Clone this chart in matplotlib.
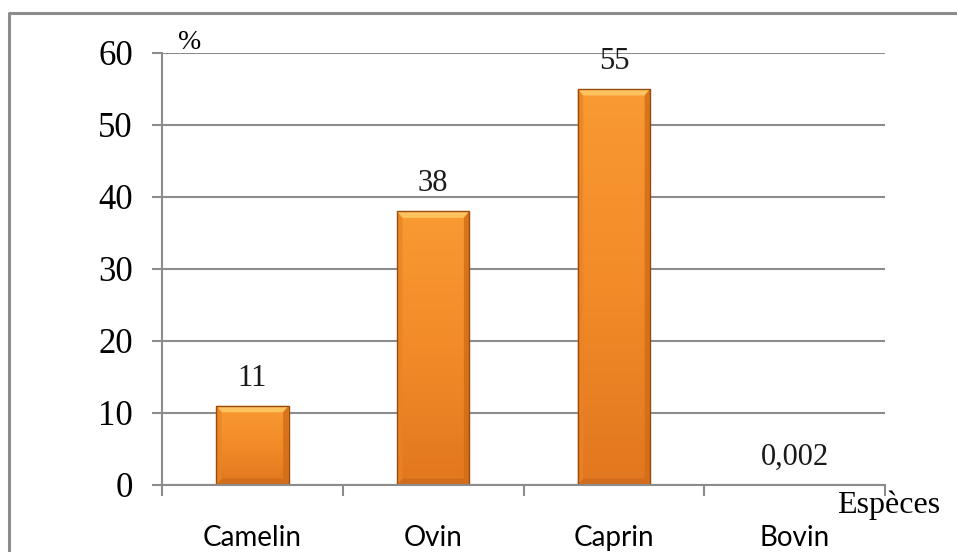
import numpy as np
import matplotlib.pyplot as plt
from matplotlib.patches import Polygon, Rectangle
from matplotlib.colors import LinearSegmentedColormap
from matplotlib.lines import Line2D

# Species share (%)
especes = ['Camelin', 'Ovin', 'Caprin', 'Bovin']
valeurs = [11, 38, 55, 0.002]
etiquettes = ['11', '38', '55', '0,002']
yticks = [0, 10, 20, 30, 40, 50, 60]

serif = ['Liberation Serif', 'DejaVu Serif']
sans = ['Lato', 'DejaVu Sans']

fig = plt.figure(figsize=(9.57, 5.52), dpi=100)
ax = fig.add_axes([0.1693, 0.1214, 0.7555, 0.7826])

x = np.arange(len(especes))
width = 0.40
grid_col = '#8c8c8c'

# vertical orange gradient, darker toward the base
grad = LinearSegmentedColormap.from_list('bar', ['#e2771f', '#f28b28', '#f99a32'])
g = np.linspace(0, 1, 256).reshape(-1, 1)

for xi, v in zip(x, valeurs):
    if v <= 0.01:
        continue
    x0, x1 = xi - width / 2, xi + width / 2
    body = Rectangle((x0, 0), width, v, facecolor='none', edgecolor='none', zorder=3)
    ax.add_patch(body)
    im = ax.imshow(g, cmap=grad, origin='lower', aspect='auto',
                   extent=(x0, x1, 0, v), zorder=3)
    im.set_clip_path(body)
    # bevelled edges
    b = 0.03
    bh = 0.9
    ax.add_patch(Polygon([(x0, v), (x1, v), (x1 - b, v - bh), (x0 + b, v - bh)],
                         closed=True, facecolor='#fcc35e', edgecolor='none', zorder=4))
    ax.add_patch(Polygon([(x1, v), (x1, 0), (x1 - b, bh), (x1 - b, v - bh)],
                         closed=True, facecolor='#d06c18', edgecolor='none',
                         alpha=0.8, zorder=4))
    ax.add_patch(Polygon([(x0, 0), (x1, 0), (x1 - b, bh), (x0 + b, bh)],
                         closed=True, facecolor='#c8661a', edgecolor='none',
                         alpha=0.6, zorder=4))
    ax.add_patch(Polygon([(x0, 0), (x0, v), (x0 + b, v - bh), (x0 + b, bh)],
                         closed=True, facecolor='#e88425', edgecolor='none',
                         alpha=0.8, zorder=4))
    ax.add_patch(Rectangle((x0, 0), width, v, facecolor='none',
                           edgecolor='#9a4a0c', lw=1.0, zorder=5))

for xi, v, lab in zip(x, valeurs, etiquettes):
    ax.text(xi, v + 1.8, lab, ha='center', va='bottom', fontsize=22,
            family=serif, color='#1a1a1a')

ax.set_xlim(-0.5, len(especes) - 0.5)
ax.set_ylim(0, 60)
ax.set_yticks(yticks)
ax.set_yticklabels([str(t) for t in yticks], family=serif, fontsize=25)
ax.set_xticks(np.arange(len(especes) + 1) - 0.5)
ax.set_xticklabels([])
ax.set_xticks(x, minor=True)
ax.set_xticklabels(especes, minor=True, family=sans, fontsize=20)

ax.tick_params(axis='y', length=7, width=1.5, color=grid_col, pad=14)
ax.tick_params(axis='x', which='major', length=8, width=1.5, color=grid_col)
ax.tick_params(axis='x', which='minor', length=0, pad=29)

ax.yaxis.grid(True, color=grid_col, lw=1.5, zorder=0)
ax.set_axisbelow(True)
for s in ['top', 'right']:
    ax.spines[s].set_visible(False)
for s in ['left', 'bottom']:
    ax.spines[s].set_color(grid_col)
    ax.spines[s].set_linewidth(1.5)
    ax.spines[s].set_zorder(6)

ax.text(0.022, 0.996, '%', transform=ax.transAxes, ha='left', va='bottom',
        family=serif, fontsize=20)
ax.text(1.005, -0.012, 'Espèces', transform=ax.transAxes, ha='center', va='top',
        family=serif, fontsize=23)

# outer frame: left and top edges only
fig.add_artist(Line2D([9 / 957, 9 / 957, 1.0], [0.0, 1 - 13 / 552, 1 - 13 / 552],
                      transform=fig.transFigure, color=grid_col, lw=2.2))

fig.savefig('out.png', dpi=100)
